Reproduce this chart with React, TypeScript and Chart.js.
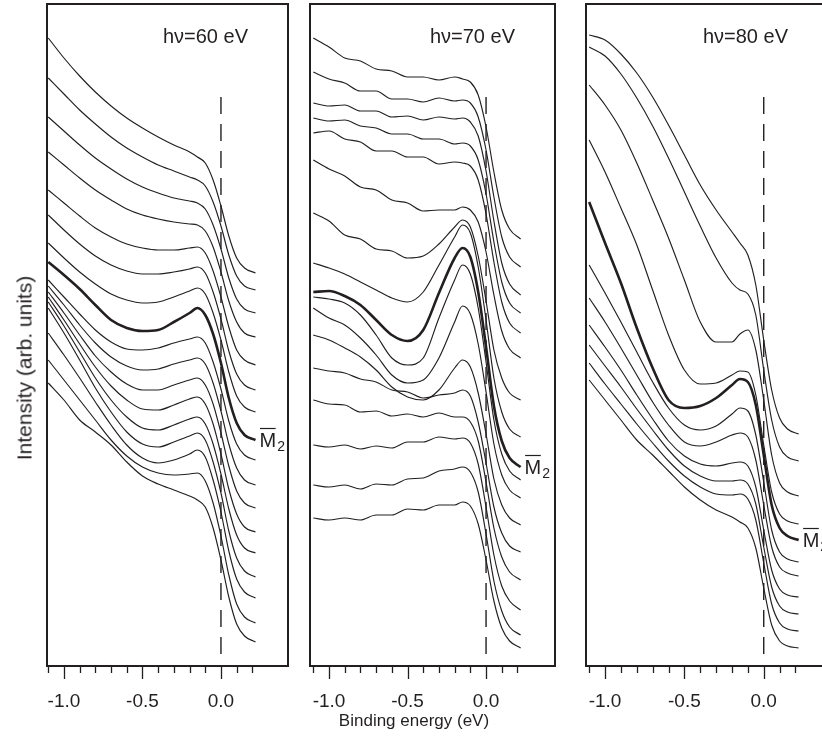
import React, { useEffect, useRef } from "react";
import { Chart, registerables } from "chart.js";

Chart.register(...registerables);

const FONT = "'Liberation Sans', Arial, Helvetica, sans-serif";
const INK = "#231f20";

// Binding energy sample points (eV) shared by every spectrum
const energy = [-1.1, -1.0, -0.9, -0.8, -0.7, -0.6, -0.5, -0.4, -0.3, -0.2, -0.15, -0.1, -0.05, 0.0, 0.05, 0.1, 0.15, 0.22];
const tickValues = [-1.1, -1.0, -0.9, -0.8, -0.7, -0.6, -0.5, -0.4, -0.3, -0.2, -0.1, 0.0, 0.1, 0.2];
const labelledTicks = [-1.0, -0.5, 0.0];
const photonLabels = ["h\u03bd=60 eV", "h\u03bd=70 eV", "h\u03bd=80 eV"];
const fermiMarker = [9, 569]; // intensity extent of the dashed E_F marker (arb. units)

// ---- hv = 60 eV (intensity, arb. units, offset stack) ----
const hv60_k01 = [628, 608, 590, 574, 560, 548, 538, 529, 521, 514, 509, 503, 486, 460, 430, 408, 398, 393];
const hv60_k02 = [588, 572, 556, 542, 529, 518, 509, 501, 495, 489, 486, 480, 464, 440, 411, 390, 380, 376];
const hv60_k03 = [549, 535, 521, 508, 497, 487, 479, 473, 468, 465, 463, 457, 441, 417, 388, 367, 357, 353];
const hv60_k04 = [514, 501, 488, 476, 466, 457, 451, 447, 444, 442, 441, 435, 419, 394, 365, 344, 333, 329];
const hv60_k05 = [476, 463, 450, 438, 429, 422, 418, 416, 416, 418, 419, 413, 395, 369, 339, 316, 306, 301];
const hv60_k06 = [451, 436, 422, 410, 401, 395, 392, 392, 394, 397, 399, 393, 374, 347, 315, 292, 281, 276];
const hv60_k07 = [423, 408, 394, 382, 372, 366, 363, 364, 369, 375, 378, 372, 353, 326, 294, 270, 259, 254];
const hv60_k08 = [404, 391, 377, 361, 346, 338, 335, 336, 344, 353, 358, 351, 332, 303, 268, 243, 231, 226];
const hv60_k09 = [386, 369, 352, 336, 324, 317, 316, 318, 323, 327, 329, 323, 304, 277, 245, 222, 211, 206];
const hv60_k10 = [380, 361, 341, 323, 309, 300, 296, 297, 302, 306, 308, 302, 283, 255, 222, 198, 186, 181];
const hv60_k11 = [374, 353, 331, 310, 294, 282, 276, 276, 281, 286, 288, 281, 262, 233, 200, 175, 163, 158];
const hv60_k12 = [369, 346, 322, 299, 280, 266, 257, 256, 261, 267, 269, 262, 242, 212, 177, 152, 139, 134];
const hv60_k13 = [364, 340, 314, 288, 266, 249, 238, 236, 241, 247, 249, 242, 222, 192, 157, 131, 118, 113];
const hv60_k14 = [358, 333, 306, 278, 254, 234, 222, 219, 224, 230, 233, 226, 204, 173, 135, 108, 95, 89];
const hv60_k15 = [333, 311, 288, 264, 241, 221, 208, 203, 206, 212, 216, 209, 186, 154, 115, 87, 74, 68];
const hv60_k16 = [306, 286, 266, 246, 226, 210, 199, 193, 191, 192, 193, 185, 163, 130, 91, 62, 49, 43];
const hv60_k17 = [283, 266, 246, 234, 221, 204, 190, 182, 176, 170, 166, 159, 138, 106, 69, 42, 30, 24];

// ---- hv = 70 eV ----
const hv70_k01 = [628, 619, 608, 605, 597, 595, 589, 589, 586, 589, 587, 584, 571, 539, 494, 456, 437, 427];
const hv70_k02 = [594, 587, 583, 575, 575, 567, 567, 564, 568, 565, 566, 563, 549, 516, 469, 429, 409, 399];
const hv70_k03 = [563, 560, 561, 555, 555, 549, 550, 546, 549, 547, 548, 544, 530, 495, 445, 403, 382, 371];
const hv70_k04 = [548, 545, 546, 540, 538, 532, 532, 527, 527, 522, 523, 520, 506, 472, 424, 384, 363, 353];
const hv70_k05 = [533, 535, 527, 524, 515, 515, 509, 509, 502, 504, 503, 500, 486, 452, 404, 364, 343, 333];
const hv70_k06 = [506, 497, 490, 479, 476, 466, 463, 455, 456, 456, 459, 456, 444, 414, 371, 335, 317, 308];
const hv70_k07 = [453, 445, 431, 427, 417, 415, 408, 410, 422, 439, 446, 439, 410, 365, 316, 288, 273, 266];
const hv70_k08 = [403, 398, 392, 384, 376, 368, 364, 374, 401, 429, 441, 433, 399, 346, 288, 254, 237, 229];
const hv70_k09 = [374, 375, 370, 361, 346, 331, 325, 336, 373, 408, 418, 409, 374, 319, 260, 225, 208, 199];
const hv70_k10 = [369, 367, 363, 351, 331, 308, 301, 308, 348, 386, 401, 392, 358, 304, 246, 212, 195, 186];
const hv70_k11 = [358, 348, 341, 328, 311, 291, 283, 286, 308, 344, 360, 352, 322, 274, 222, 191, 176, 168];
const hv70_k12 = [331, 326, 318, 309, 296, 279, 269, 266, 276, 298, 306, 299, 273, 232, 187, 161, 148, 141];
const hv70_k13 = [298, 295, 293, 287, 284, 276, 274, 268, 271, 273, 276, 270, 244, 203, 159, 133, 120, 114];
const hv70_k14 = [266, 262, 261, 254, 255, 250, 252, 249, 253, 249, 249, 244, 225, 184, 138, 109, 94, 86];
const hv70_k15 = [221, 219, 221, 217, 220, 218, 224, 224, 229, 227, 228, 223, 202, 159, 111, 80, 65, 56];
const hv70_k16 = [181, 179, 181, 177, 182, 181, 187, 188, 195, 197, 199, 194, 174, 132, 85, 55, 39, 31];
const hv70_k17 = [148, 146, 148, 146, 151, 151, 157, 156, 161, 161, 164, 160, 142, 106, 65, 38, 25, 18];

// ---- hv = 80 eV ----
const hv80_k01 = [631, 626, 612, 593, 569, 541, 511, 481, 456, 434, 423, 411, 381, 326, 276, 248, 237, 232];
const hv80_k02 = [619, 610, 592, 568, 540, 508, 474, 440, 408, 383, 376, 372, 351, 296, 246, 219, 209, 205];
const hv80_k03 = [581, 561, 536, 503, 466, 428, 386, 344, 324, 324, 332, 336, 316, 266, 211, 183, 174, 170];
const hv80_k04 = [526, 494, 458, 421, 376, 331, 296, 282, 283, 291, 295, 294, 271, 221, 174, 152, 145, 142];
const hv80_k05 = [464, 423, 383, 338, 298, 266, 258, 260, 268, 281, 287, 284, 261, 211, 161, 138, 130, 126];
const hv80_k06 = [401, 373, 344, 314, 284, 258, 241, 236, 240, 252, 258, 255, 231, 184, 136, 114, 107, 104];
const hv80_k07 = [368, 344, 318, 291, 264, 241, 224, 220, 224, 231, 233, 229, 206, 161, 119, 99, 93, 90];
const hv80_k08 = [341, 319, 296, 271, 247, 225, 210, 202, 200, 203, 204, 200, 179, 136, 96, 77, 71, 69];
const hv80_k09 = [321, 300, 279, 257, 236, 216, 200, 190, 185, 185, 186, 182, 162, 119, 79, 60, 54, 52];
const hv80_k10 = [303, 282, 262, 242, 223, 205, 190, 179, 172, 171, 172, 167, 146, 103, 62, 43, 37, 35];
const hv80_k11 = [286, 266, 246, 226, 211, 195, 179, 166, 156, 149, 144, 138, 118, 78, 41, 25, 20, 18];

const hv60Curves = [hv60_k01, hv60_k02, hv60_k03, hv60_k04, hv60_k05, hv60_k06, hv60_k07, hv60_k08, hv60_k09, hv60_k10, hv60_k11, hv60_k12, hv60_k13, hv60_k14, hv60_k15, hv60_k16, hv60_k17];
const hv70Curves = [hv70_k01, hv70_k02, hv70_k03, hv70_k04, hv70_k05, hv70_k06, hv70_k07, hv70_k08, hv70_k09, hv70_k10, hv70_k11, hv70_k12, hv70_k13, hv70_k14, hv70_k15, hv70_k16, hv70_k17];
const hv80Curves = [hv80_k01, hv80_k02, hv80_k03, hv80_k04, hv80_k05, hv80_k06, hv80_k07, hv80_k08, hv80_k09, hv80_k10, hv80_k11];

type PanelProps = {
  curves: number[][];
  boldIndex: number;
  xMin: number;
  xMax: number;
  label: string;
  left: number;
  width: number;
  padLeft: number;
  padRight: number;
};

function Panel({ curves, boldIndex, xMin, xMax, label, left, width, padLeft, padRight }: PanelProps) {
  const ref = useRef<HTMLCanvasElement>(null);

  useEffect(() => {
    if (!ref.current) return;
    const datasets: any[] = curves.map((c, i) => ({
      data: c.map((v, j) => ({ x: energy[j], y: v })),
      borderColor: INK,
      borderWidth: i === boldIndex ? 2.6 : 1.15,
      pointRadius: 0,
      cubicInterpolationMode: "monotone",
      fill: false,
    }));
    datasets.push({
      data: [
        { x: 0, y: fermiMarker[1] },
        { x: 0, y: fermiMarker[0] },
      ],
      borderColor: INK,
      borderWidth: 1.4,
      borderDash: [17, 10],
      pointRadius: 0,
      tension: 0,
      fill: false,
    });

    const deco = {
      id: "deco",
      afterDraw(chart: any) {
        const { ctx, chartArea: a, scales } = chart;
        const xs = scales.x;
        ctx.save();
        ctx.strokeStyle = INK;
        ctx.lineWidth = 2;
        ctx.strokeRect(a.left, a.top, a.right - a.left, a.bottom - a.top);
        ctx.lineWidth = 1.3;
        tickValues.forEach((t) => {
          const px = Math.round(xs.getPixelForValue(t)) + 0.5;
          const major = labelledTicks.some((m) => Math.abs(m - t) < 1e-6);
          ctx.beginPath();
          ctx.moveTo(px, a.bottom);
          ctx.lineTo(px, a.bottom + (major ? 13 : 7));
          ctx.stroke();
        });
        ctx.fillStyle = INK;
        ctx.font = `20px ${FONT}`;
        ctx.textAlign = "right";
        ctx.textBaseline = "middle";
        ctx.fillText(label, a.right - 40, a.top + 33);

        const meta = chart.getDatasetMeta(boldIndex);
        const last = meta.data[meta.data.length - 1];
        const lx = last.x + 4;
        const ly = last.y;
        ctx.textAlign = "left";
        ctx.textBaseline = "alphabetic";
        ctx.font = `20px ${FONT}`;
        ctx.fillText("M", lx, ly + 7);
        const w = ctx.measureText("M").width;
        ctx.lineWidth = 1.2;
        ctx.beginPath();
        ctx.moveTo(lx + 0.5, ly - 11.5);
        ctx.lineTo(lx + w - 0.5, ly - 11.5);
        ctx.stroke();
        ctx.font = `14px ${FONT}`;
        ctx.fillText("2", lx + w + 1, ly + 11);
        ctx.restore();
      },
    };

    const chart = new Chart(ref.current, {
      type: "line",
      data: { datasets },
      options: {
        animation: false,
        responsive: false,
        devicePixelRatio: 1,
        layout: { padding: { left: padLeft, right: padRight, top: 4, bottom: 0 } },
        plugins: { legend: { display: false }, tooltip: { enabled: false }, title: { display: false } },
        events: [],
        scales: {
          x: {
            type: "linear",
            min: xMin,
            max: xMax,
            grid: { display: false, drawTicks: true, tickLength: 24 },
            border: { display: false },
            afterBuildTicks: (scale: any) => {
              scale.ticks = tickValues.map((v) => ({ value: v }));
            },
            afterFit: (scale: any) => {
              scale.height = 81;
            },
            ticks: {
              autoSkip: false,
              maxRotation: 0,
              minRotation: 0,
              padding: 0,
              color: INK,
              font: { family: FONT, size: 19 },
              callback: (v: any) => {
                const n = Number(v);
                return labelledTicks.some((m) => Math.abs(m - n) < 1e-6) ? n.toFixed(1) : "";
              },
            },
          },
          y: { type: "linear", display: false, min: 0, max: 662 },
        },
      } as any,
      plugins: [deco],
    });
    return () => chart.destroy();
  }, []);

  return (
    <canvas
      ref={ref}
      width={width}
      height={747}
      style={{ position: "absolute", left, top: 0, width, height: 747 }}
    />
  );
}

export default function App() {
  return (
    <div
      style={{
        position: "absolute",
        left: 0,
        top: 0,
        width: 822,
        height: 747,
        overflow: "hidden",
        background: "#ffffff",
        fontFamily: FONT,
        color: INK,
      }}
    >
      <Panel curves={hv60Curves} boldIndex={7} xMin={-1.108} xMax={0.427} label={photonLabels[0]} left={0} width={300} padLeft={47} padRight={12} />
      <Panel curves={hv70Curves} boldIndex={8} xMin={-1.121} xMax={0.439} label={photonLabels[1]} left={300} width={270} padLeft={10} padRight={15} />
      <Panel curves={hv80Curves} boldIndex={4} xMin={-1.12} xMax={0.405} label={photonLabels[2]} left={570} width={280} padLeft={16} padRight={22} />
      <div
        style={{
          position: "absolute",
          left: 24,
          top: 368,
          transform: "translate(-50%, -50%) rotate(-90deg)",
          whiteSpace: "nowrap",
          fontSize: 21,
          lineHeight: "21px",
        }}
      >
        Intensity (arb. units)
      </div>
      <div
        style={{
          position: "absolute",
          left: 414,
          top: 720,
          transform: "translate(-50%, -50%)",
          whiteSpace: "nowrap",
          fontSize: 17,
          lineHeight: "17px",
        }}
      >
        Binding energy (eV)
      </div>
    </div>
  );
}
